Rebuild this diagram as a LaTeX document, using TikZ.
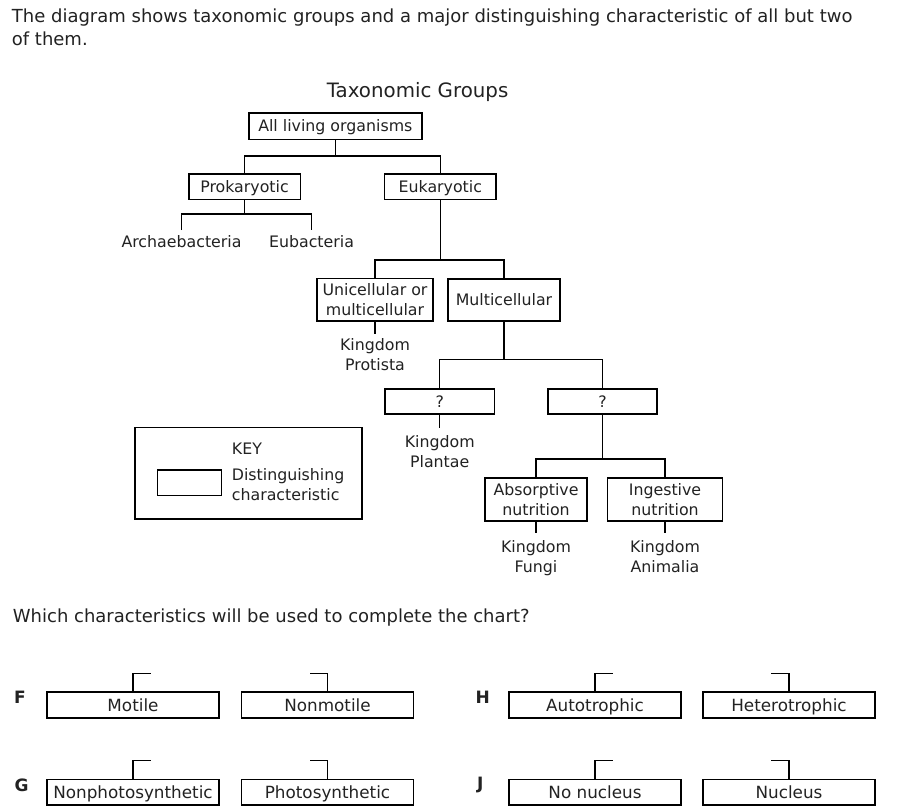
\documentclass[tikz,border=0pt]{standalone}
\usepackage{fontspec}
\setmainfont{DejaVu Sans}
\definecolor{ink}{HTML}{222222}
\newcommand\bodyfont{\fontsize{15.8}{20}\selectfont}
\newcommand\ansfont{\fontsize{16.8}{20}\selectfont}
\newcommand\introfont{\fontsize{18}{23.5}\selectfont}
\newcommand\titlefont{\fontsize{19.8}{24}\selectfont}
\begin{document}
\begin{tikzpicture}[x=1pt,y=-1pt,
  every node/.style={text=ink, font=\bodyfont},
  cbox/.style={draw=black, line width=1.7pt, inner sep=0pt, align=center,
    text height=15pt, text depth=3.47pt},
  cboxtwo/.style={draw=black, line width=1.7pt, inner sep=0pt, align=center},
  conn/.style={draw=black, line width=1.4pt},
  brk/.style={draw=black, line width=1.6pt},
  lbl/.style={align=center, inner sep=0pt},
  ans/.style={cbox, font=\ansfont, text height=15.96pt, text depth=3.7pt,
    minimum width=172pt, minimum height=25.7pt},
  letter/.style={font=\fontsize{17}{20}\selectfont\bfseries, inner sep=0pt}]
\fill[white] (0,0) rectangle (900,809);
\useasboundingbox (0,0) rectangle (900,809);

% intro text
\node[anchor=north west, inner sep=0pt, align=left, font=\introfont] (intro) at (11.7,8.3)
  {The diagram shows taxonomic groups and a major distinguishing characteristic of all but two\\of them.};
\node[anchor=north west, inner sep=0pt, font=\titlefont] (title) at (326.7,82.3) {Taxonomic Groups};

% tree
\node[cbox, minimum width=172.7pt, minimum height=26.7pt] (all) at (335.3,126) {All living organisms};
\node[cbox, minimum width=111.7pt, minimum height=25.3pt] (pro) at (244.5,186.7) {Prokaryotic};
\node[cbox, minimum width=111.7pt, minimum height=25.3pt] (euk) at (440.3,186.7) {Eukaryotic};
\coordinate (j1) at (335.3,156);
\draw[conn] (all.south) -- (j1);
\draw[conn] (pro.north) |- (j1) -| (euk.north);

\node[lbl, anchor=north, outer ysep=5.5pt] (arch) at (181.5,230) {Archaebacteria};
\node[lbl, anchor=north, outer ysep=5.5pt] (eub) at (311.5,230) {Eubacteria};
\draw[conn] (pro.south) -- ++(0,13.8) coordinate (j2);
\draw[conn] (arch.north) |- (j2) -| (eub.north);

\node[cboxtwo, minimum width=116.6pt, minimum height=42.7pt] (uni) at (375,299.7) {Unicellular or\\multicellular};
\node[cbox, minimum width=112.3pt, minimum height=42pt] (mul) at (504,300) {Multicellular};
\coordinate (j3) at (440.3,260);
\draw[conn] (euk.south) -- (j3);
\draw[conn] (uni.north) |- (j3) -| (mul.north);

\node[lbl, anchor=north, outer ysep=4.5pt] (prot) at (375,334) {Kingdom\\Protista};
\draw[conn] (uni.south) -- (prot.north);

\node[cbox, minimum width=109.3pt, minimum height=25pt] (q1) at (439.7,401.8) {?};
\node[cbox, minimum width=109.6pt, minimum height=25pt] (q2) at (602.5,401.8) {?};
\draw[conn] (mul.south) -- ++(0,37.5) coordinate (j4);
\draw[conn] (q1.north) |- (j4) -| (q2.north);

\node[lbl, anchor=north, outer ysep=7.5pt] (plan) at (439.7,428.3) {Kingdom\\Plantae};
\draw[conn] (q1.south) -- (plan.north);

\node[cboxtwo, minimum width=102pt, minimum height=42.7pt] (abs) at (536,499.5) {Absorptive\\nutrition};
\node[cboxtwo, minimum width=115pt, minimum height=42.7pt] (ing) at (665,499.5) {Ingestive\\nutrition};
\draw[conn] (q2.south) -- ++(0,44) coordinate (j5);
\draw[conn] (abs.north) |- (j5) -| (ing.north);

\node[lbl, anchor=north, outer ysep=7pt] (fun) at (536,533.3) {Kingdom\\Fungi};
\node[lbl, anchor=north, outer ysep=7pt] (ani) at (665,533.3) {Kingdom\\Animalia};
\draw[conn] (abs.south) -- (fun.north);
\draw[conn] (ing.south) -- (ani.north);

% key
\node[draw=black, line width=1.7pt, minimum width=226.7pt, minimum height=91.7pt, inner sep=0pt] (key) at (248.3,473.2) {};
\node[draw=black, line width=1.5pt, minimum width=64pt, minimum height=25.7pt, inner sep=0pt] (keysw) at (189.7,482.8) {};
\node[anchor=north west, inner sep=0pt] (keyt) at (231.7,442.5) {KEY};
\node[anchor=north west, inner sep=0pt, align=left] (keyd) at (231.7,468.7) {Distinguishing\\characteristic};

% question
\node[anchor=north west, inner sep=0pt, font=\introfont] (quest) at (12.7,608.8) {Which characteristics will be used to complete the chart?};

% answers
\node[letter] (F) at (20,697) {F};
\node[letter] (G) at (21.7,785) {G};
\node[letter] (H) at (482.8,697) {H};
\node[letter] (J) at (480.2,785) {J};

\node[ans] (mot) at (133,705) {Motile};
\node[ans] (nmot) at (327.5,705) {Nonmotile};
\node[ans] (nps) at (133,792.3) {Nonphotosynthetic};
\node[ans] (ps) at (327.5,792.3) {Photosynthetic};
\node[ans] (aut) at (595,705) {Autotrophic};
\node[ans] (het) at (789,705) {Heterotrophic};
\node[ans] (nn) at (595,792.3) {No nucleus};
\node[ans] (nuc) at (789,792.3) {Nucleus};

\draw[brk] (mot.north) -- ++(0,-18) -- ++(18,0);
\draw[brk] (nmot.north) -- ++(0,-18) -- ++(-18,0);
\draw[brk] (nps.north) -- ++(0,-18) -- ++(18,0);
\draw[brk] (ps.north) -- ++(0,-18) -- ++(-18,0);
\draw[brk] (aut.north) -- ++(0,-18) -- ++(18,0);
\draw[brk] (het.north) -- ++(0,-18) -- ++(-18,0);
\draw[brk] (nn.north) -- ++(0,-18) -- ++(18,0);
\draw[brk] (nuc.north) -- ++(0,-18) -- ++(-18,0);
\end{tikzpicture}
\end{document}
